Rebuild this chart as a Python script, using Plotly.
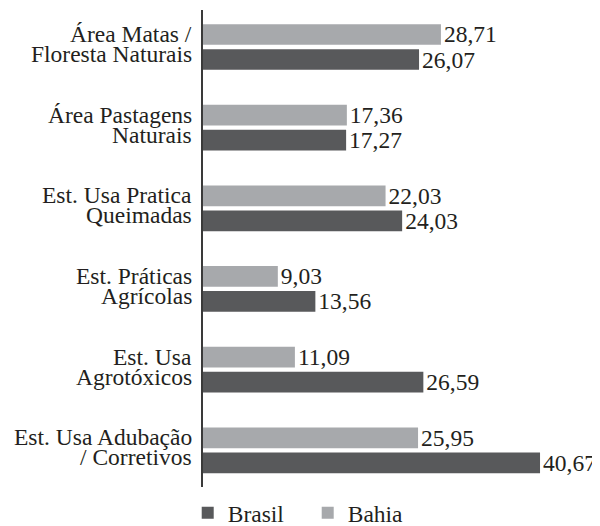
import plotly.graph_objects as go

categories = [
    "Área Matas / Floresta Naturais",
    "Área Pastagens Naturais",
    "Est. Usa Pratica Queimadas",
    "Est. Práticas Agrícolas",
    "Est. Usa Agrotóxicos",
    "Est. Usa Adubação / Corretivos",
]
label_lines = [
    ("Área Matas /", "Floresta Naturais"),
    ("Área Pastagens", "Naturais"),
    ("Est. Usa Pratica", "Queimadas"),
    ("Est. Práticas", "Agrícolas"),
    ("Est. Usa", "Agrotóxicos"),
    ("Est. Usa Adubação", "/ Corretivos"),
]
brasil = [26.07, 17.27, 24.03, 13.56, 26.59, 40.67]
bahia = [28.71, 17.36, 22.03, 9.03, 11.09, 25.95]


def fmt(v):
    return f"{v:.2f}".replace(".", ",")


font_family = "Liberation Serif"
ink = "#231f20"
fsize = 23.5

fig = go.Figure()
fig.add_trace(go.Bar(
    name="Brasil", y=categories, x=brasil, orientation="h",
    marker=dict(color="#58595b", line=dict(width=0)),
    text=[fmt(v) for v in brasil], textposition="outside", constraintext="none",
    textfont=dict(size=fsize, color=ink, family=font_family), cliponaxis=False,
))
fig.add_trace(go.Bar(
    name="Bahia", y=categories, x=bahia, orientation="h",
    marker=dict(color="#a7a9ac", line=dict(width=0)),
    text=[fmt(v) for v in bahia], textposition="outside", constraintext="none",
    textfont=dict(size=fsize, color=ink, family=font_family), cliponaxis=False,
))

# two-line category labels, tighter spacing than plotly's <br>
for cat, (l1, l2) in zip(categories, label_lines):
    for txt, shift in ((l1, 13), (l2, -7)):
        fig.add_annotation(
            x=0, y=cat, xref="paper", yref="y", text=txt, showarrow=False,
            xanchor="right", yanchor="middle", xshift=-9, yshift=shift,
            font=dict(size=fsize, color=ink, family=font_family),
        )

# the page adds an 8px body margin, so the figure is drawn 8px smaller
fig.update_layout(
    width=592, height=518,
    barmode="group", bargap=0.38, bargroupgap=0.172,
    plot_bgcolor="white", paper_bgcolor="white",
    font=dict(family=font_family, size=fsize, color=ink),
    margin=dict(l=195, r=10, t=2, b=39, autoexpand=False),
    xaxis=dict(range=[0, 46.7], visible=False),
    yaxis=dict(
        categoryorder="array", categoryarray=categories[::-1],
        range=[-0.4553, 5.4587],
        showline=True, linecolor="#3a3a3a", linewidth=2,
        ticks="", showgrid=False, showticklabels=False,
    ),
    legend=dict(
        orientation="h", x=-0.0395, xanchor="left", y=-0.0545, yanchor="middle",
        font=dict(size=fsize, family=font_family), itemwidth=30,
        entrywidth=75, entrywidthmode="pixels",
    ),
    showlegend=True,
)

fig.write_html("out.html")
